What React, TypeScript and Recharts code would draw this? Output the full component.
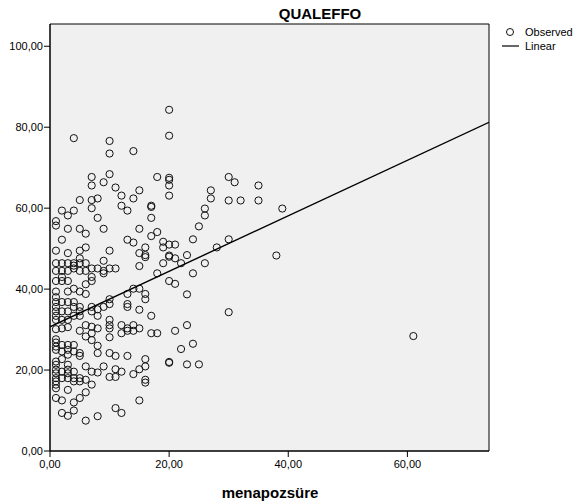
import React from 'react';
import { ScatterChart, Scatter, XAxis, YAxis, CartesianGrid, ReferenceArea } from 'recharts';

// menapozsüre (years) columns and the QUALEFFO values observed at each
const menapozYears = [1, 2, 3, 4, 5, 6, 7, 8, 9, 10, 11, 12, 13, 14, 15, 16, 17, 18, 19, 20, 21, 22, 23, 24, 25, 26, 27, 28, 30, 31, 32, 35, 38, 39, 61];
const qualeffoByYear = [
  [56.8, 55.7, 49.5, 46.4, 44.5, 42.0, 39.4, 38.0, 36.8, 35.6, 34.5, 33.4, 32.4, 30.1, 27.6, 26.8, 25.8, 25.0, 22.1, 21.3, 20.1, 19.2, 18.0, 17.2, 16.4, 15.5, 13.1],
  [59.4, 52.2, 46.4, 44.5, 43.0, 42.0, 36.8, 34.5, 32.4, 30.3, 26.2, 24.6, 22.7, 19.6, 18.0, 12.5, 9.4],
  [58.2, 54.9, 48.9, 46.4, 44.5, 42.0, 39.4, 36.8, 34.5, 32.4, 30.6, 26.2, 25.0, 23.8, 21.3, 20.1, 19.2, 18.0, 15.1, 8.7],
  [77.3, 59.4, 46.4, 45.8, 45.1, 40.1, 36.8, 35.6, 33.4, 26.2, 24.6, 19.6, 18.0, 17.2, 12.0, 10.0],
  [62.0, 54.9, 49.5, 47.6, 46.4, 44.5, 39.4, 35.6, 34.5, 33.4, 29.7, 24.2, 23.5, 18.0, 17.2, 13.1],
  [53.7, 50.3, 46.4, 44.5, 41.2, 38.8, 31.1, 28.3, 20.9, 17.6, 14.5, 7.5],
  [67.7, 65.6, 62.0, 60.0, 45.1, 43.0, 42.0, 35.6, 34.5, 30.7, 29.1, 27.4, 19.6, 16.4],
  [62.4, 57.6, 45.1, 35.0, 33.4, 30.3, 26.0, 24.2, 19.4, 8.6],
  [66.4, 54.9, 47.0, 44.5, 43.9, 35.6, 20.9],
  [76.6, 73.5, 68.4, 49.5, 45.1, 37.5, 36.3, 32.4, 31.1, 30.3, 28.1, 24.2, 18.3],
  [65.1, 45.1, 23.5, 20.2, 18.3, 10.6],
  [63.1, 60.6, 31.1, 29.1, 19.6, 9.4],
  [59.4, 52.2, 38.8, 36.3, 35.6, 30.3, 29.7, 23.5],
  [74.1, 62.4, 51.5, 40.1, 31.1, 29.7, 19.0],
  [64.4, 54.9, 48.9, 45.7, 40.1, 34.9, 30.3, 20.2, 12.5],
  [50.3, 48.4, 47.9, 38.8, 37.5, 22.7, 20.9, 17.6, 16.9],
  [60.6, 60.3, 57.6, 53.1, 33.4, 29.1],
  [67.7, 54.1, 43.9, 29.1],
  [51.7, 50.3, 46.4],
  [84.3, 77.9, 67.5, 67.0, 65.6, 63.1, 51.0, 48.3, 48.0, 42.0, 22.0, 21.8],
  [51.0, 47.6, 41.3, 29.7],
  [46.4, 25.2],
  [48.4, 38.7, 31.1, 21.4],
  [52.3, 43.9, 26.5],
  [55.5, 21.4],
  [59.9, 58.2, 46.4],
  [64.4, 62.4],
  [50.3],
  [67.7, 61.9, 52.3, 34.3],
  [66.4],
  [61.9],
  [65.6, 61.9],
  [48.3],
  [59.9],
  [28.4],
];

// Linear fit endpoints
const fitX = [0, 73.7];
const fitY = [30.7, 81.2];

const xTicks = [0, 20, 40, 60];
const yTicks = [0, 20, 40, 60, 80, 100];
const xDomain: [number, number] = [0, 73.7];
const yDomain: [number, number] = [0, 105.5];

const observed = menapozYears.flatMap((yr, i) => qualeffoByYear[i].map((q) => ({ x: yr, y: q })));
const linear = fitX.map((x, i) => ({ x, y: fitY[i] }));

const FONT = '"Liberation Sans", Arial, sans-serif';
const fmt = (v: number) => v.toFixed(2).replace('.', ',');

const Ring = (props: any) => {
  if (props.cx == null || props.cy == null) return <g />;
  return <circle cx={props.cx} cy={props.cy} r={3.6} fill="none" stroke="#111" strokeWidth={1} />;
};
const NoShape = () => <g />;

export default function App() {
  return (
    <div style={{ position: 'absolute', left: 0, top: 0, width: 574, height: 502, background: '#fff', fontFamily: FONT }}>
      <ScatterChart width={574} height={502} margin={{ top: 24, right: 85, bottom: 0, left: 0 }}>
        <CartesianGrid horizontal={false} vertical={false} fill="#f0f0f0" />
        <XAxis
          type="number"
          dataKey="x"
          domain={xDomain}
          ticks={xTicks}
          allowDataOverflow
          height={51}
          tickSize={6}
          tickMargin={3}
          tickFormatter={fmt}
          stroke="#000"
          tick={{ fontSize: 11, fill: '#000', fontFamily: FONT }}
        />
        <YAxis
          type="number"
          dataKey="y"
          domain={yDomain}
          ticks={yTicks}
          allowDataOverflow
          width={50}
          tickSize={6}
          tickMargin={1}
          tickFormatter={fmt}
          stroke="#000"
          tick={{ fontSize: 11, fill: '#000', fontFamily: FONT }}
        />
        <ReferenceArea x1={xDomain[0]} x2={xDomain[1]} y1={yDomain[0]} y2={yDomain[1]} fill="none" stroke="#000" strokeWidth={1} fillOpacity={0} />
        <Scatter data={observed} shape={Ring} isAnimationActive={false} />
        <Scatter data={linear} shape={NoShape} line={{ stroke: '#000', strokeWidth: 1.4 }} isAnimationActive={false} />
      </ScatterChart>
      <svg width={574} height={502} style={{ position: 'absolute', left: 0, top: 0, pointerEvents: 'none' }}>
        <text x={320} y={13} textAnchor="middle" dominantBaseline="central" fontFamily={FONT} fontWeight="bold" fontSize={15} fill="#000">QUALEFFO</text>
        <text x={270} y={492} textAnchor="middle" dominantBaseline="central" fontFamily={FONT} fontWeight="bold" fontSize={15} fill="#000">menapozsüre</text>
        <circle cx={510} cy={32} r={3.5} fill="none" stroke="#111" strokeWidth={1} />
        <text x={525} y={32} dominantBaseline="central" fontFamily={FONT} fontSize={11} fill="#000">Observed</text>
        <line x1={502} x2={519} y1={46} y2={46} stroke="#000" strokeWidth={1.2} />
        <text x={525} y={46} dominantBaseline="central" fontFamily={FONT} fontSize={11} fill="#000">Linear</text>
      </svg>
    </div>
  );
}
